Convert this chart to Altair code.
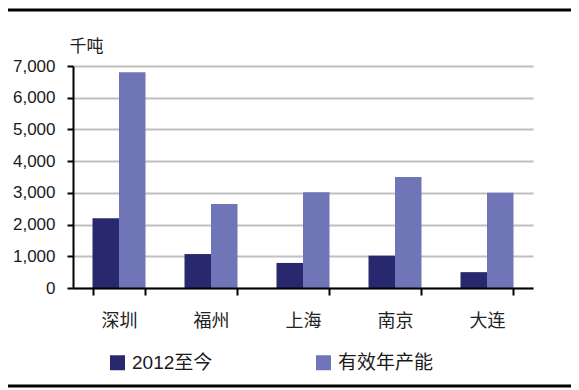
import altair as alt
import pandas as pd

cities = ["深圳", "福州", "上海", "南京", "大连"]
series = ["2012至今", "有效年产能"]
since_2012 = [2200, 1070, 790, 1020, 500]
capacity = [6800, 2650, 3020, 3500, 3000]
y_ticks = [0, 1000, 2000, 3000, 4000, 5000, 6000, 7000]
colors = ["#28286e", "#7075b7"]

rows = []
for i, c in enumerate(cities):
    rows.append({"city": c, "series": series[0], "value": since_2012[i]})
    rows.append({"city": c, "series": series[1], "value": capacity[i]})
df = pd.DataFrame(rows)

FONT = "Liberation Sans, Arial, Noto Sans CJK SC, sans-serif"
CJK = "Noto Sans CJK SC, sans-serif"
W, H = 460, 222
PL, PT, PR, PB = 65, 58, 38, 100

bars = alt.Chart(df).mark_bar().encode(
    x=alt.X(
        "city:N", sort=cities,
        scale=alt.Scale(paddingInner=0.424, paddingOuter=0.212),
        axis=alt.Axis(
            title=None, labelAngle=0, tickBand="extent",
            domainColor="black", domainWidth=2,
            tickColor="black", tickWidth=2, tickSize=7,
            labelFont=CJK, labelFontSize=18, labelPadding=17,
            labelColor="#222222", zindex=1,
        ),
    ),
    xOffset=alt.XOffset("series:N", sort=series),
    y=alt.Y(
        "value:Q",
        scale=alt.Scale(domain=[0, 7000], nice=False),
        axis=alt.Axis(
            values=y_ticks, format=",.0f",
            title="千吨", titleAngle=0, titleAlign="left", titleBaseline="middle",
            titleX=-4, titleY=-20, titleFont=CJK, titleFontSize=17,
            titleFontWeight="normal", titleColor="#222222",
            grid=True, gridColor="#c0c0c0", gridWidth=2,
            domainColor="black", domainWidth=2,
            tickColor="black", tickWidth=2, tickSize=6,
            labelFont=FONT, labelFontSize=17, labelPadding=12,
            labelColor="#1a1a1a",
        ),
    ),
    color=alt.Color(
        "series:N", sort=series,
        scale=alt.Scale(domain=series, range=colors),
        legend=alt.Legend(
            title=None, orient="none", legendX=35, legendY=287,
            direction="horizontal", columns=2, columnPadding=101,
            symbolType="square", symbolSize=225, symbolStrokeWidth=0,
            labelFont=FONT, labelFontSize=19, labelOffset=5,
            labelColor="#1a1a1a", padding=0,
        ),
    ),
)

frame = pd.DataFrame({"k": [0]})
top_line = alt.Chart(frame).mark_rule(color="black", strokeWidth=3).encode(
    x=alt.value(-PL), x2=alt.value(W + PR), y=alt.value(-PT + 2)
)
bottom_line = alt.Chart(frame).mark_rule(color="black", strokeWidth=3).encode(
    x=alt.value(-PL), x2=alt.value(W + PR), y=alt.value(H + PB - 2)
)

chart = alt.layer(bars, top_line, bottom_line).properties(
    width=W, height=H,
    autosize=alt.AutoSizeParams(type="none"),
    padding={"left": PL, "top": PT, "right": PR, "bottom": PB},
).configure_view(stroke=None)

chart.save("out.html", embed_options={"renderer": "svg", "actions": False})
